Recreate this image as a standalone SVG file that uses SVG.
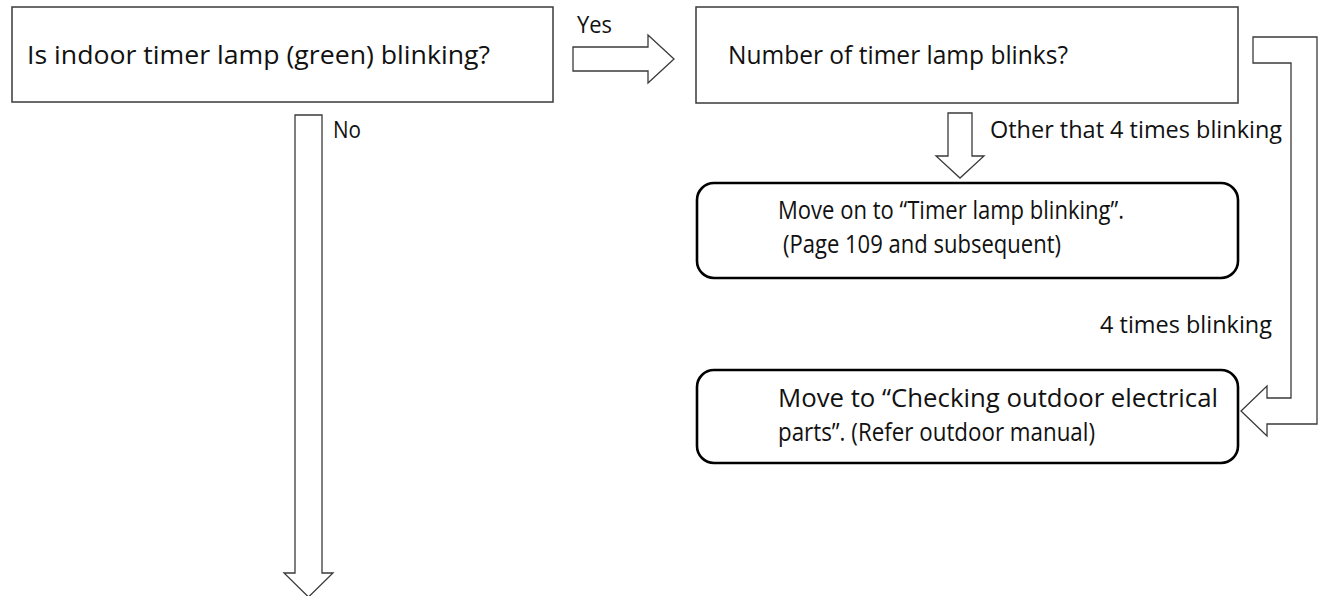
<svg xmlns="http://www.w3.org/2000/svg" width="1321" height="596" viewBox="0 0 1321 596">
<style>
.box{fill:#fff;stroke:#3a3a3a;stroke-width:1.5}
.rbox{fill:#fff;stroke:#000;stroke-width:2.6}
.arr{fill:#fff;stroke:#3a3a3a;stroke-width:1.3;stroke-linejoin:miter}
text{font-family:"Open Sans","Noto Sans","Liberation Sans",sans-serif;font-size:26px;fill:#111}
.lbl{font-size:24px}
</style>
<rect width="1321" height="596" fill="#fff"/>
<g id="connectors">
<polygon class="arr" points="573,47 648,47 648,35 674,59 648,83 648,71 573,71"/>
<text class="lbl" x="577" y="33" textLength="35" lengthAdjust="spacingAndGlyphs">Yes</text>
<polygon class="arr" points="295,115 322,115 322,573 333,573 308.5,597 284,573 295,573"/>
<text class="lbl" x="333" y="138" textLength="28" lengthAdjust="spacingAndGlyphs">No</text>
<polygon class="arr" points="948,113 972,113 972,156 984,156 960,178 936,156 948,156"/>
<text class="lbl" x="990" y="138" textLength="292" lengthAdjust="spacingAndGlyphs">Other that 4 times blinking</text>
<path class="arr" d="M1253,37 H1317 V424 H1267 V436 L1241,411 L1267,386 V398 H1291 V63 H1253 Z"/>
<text class="lbl" x="1100" y="333" textLength="172" lengthAdjust="spacingAndGlyphs">4 times blinking</text>
</g>
<g id="q1">
<rect class="box" x="12" y="7" width="541" height="95"/>
<text x="27" y="64" textLength="463" lengthAdjust="spacingAndGlyphs">Is indoor timer lamp (green) blinking?</text>
</g>
<g id="q2">
<rect class="box" x="696" y="7" width="542" height="96"/>
<text x="728" y="64" textLength="340" lengthAdjust="spacingAndGlyphs">Number of timer lamp blinks?</text>
</g>
<g id="r1">
<rect class="rbox" x="697" y="183" width="541" height="95" rx="17"/>
<text x="778" y="219" textLength="346" lengthAdjust="spacingAndGlyphs">Move on to “Timer lamp blinking”.</text>
<text x="783" y="253" textLength="278" lengthAdjust="spacingAndGlyphs">(Page 109 and subsequent)</text>
</g>
<g id="r2">
<rect class="rbox" x="697" y="370" width="541" height="93" rx="17"/>
<text x="778" y="407" textLength="440" lengthAdjust="spacingAndGlyphs">Move to “Checking outdoor electrical</text>
<text x="778" y="441" textLength="317" lengthAdjust="spacingAndGlyphs">parts”. (Refer outdoor manual)</text>
</g>
</svg>
